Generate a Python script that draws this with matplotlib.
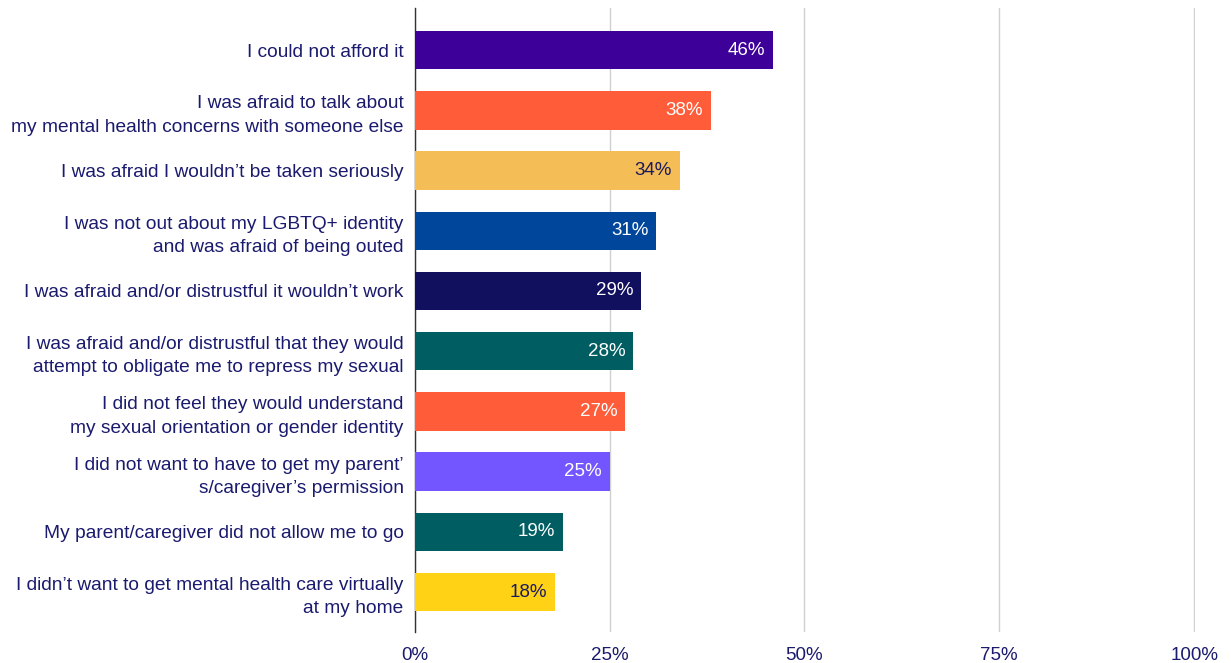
# Barras horizontais: motivos para não buscar atendimento de saúde mental

import matplotlib.pyplot as plt

plt.rcParams['font.family'] = ['Liberation Sans', 'DejaVu Sans']

motivos = [
    'I could not afford it',
    'I was afraid to talk about\nmy mental health concerns with someone else',
    'I was afraid I wouldn\u2019t be taken seriously',
    'I was not out about my LGBTQ+ identity\nand was afraid of being outed',
    'I was afraid and/or distrustful it wouldn\u2019t work',
    'I was afraid and/or distrustful that they would\nattempt to obligate me to repress my sexual',
    'I did not feel they would understand\nmy sexual orientation or gender identity',
    'I did not want to have to get my parent\u2019\ns/caregiver\u2019s permission',
    'My parent/caregiver did not allow me to go',
    'I didn\u2019t want to get mental health care virtually\nat my home',
]
percentuais = [46, 38, 34, 31, 29, 28, 27, 25, 19, 18]
cores = ['#3d0099', '#ff5c39', '#f4bd55', '#00479b', '#10105f',
         '#005e63', '#ff5c39', '#7356ff', '#005e63', '#ffd215']
cores_texto = ['white', 'white', '#1a1a5e', 'white', 'white',
               'white', 'white', 'white', 'white', '#1a1a5e']
ticks_x = [0, 25, 50, 75, 100]

azul_texto = '#1a1a6e'

fig = plt.figure(figsize=(12.31, 6.63), dpi=100)
ax = fig.add_axes([0.337, 0.047, 0.634, 0.941])

pos = list(range(len(motivos)))
ax.barh(pos, percentuais, height=0.64, color=cores, zorder=3)

# Valor escrito dentro da barra, alinhado à direita
for y, v, c in zip(pos, percentuais, cores_texto):
    ax.text(v - 1.0, y, f'{v}%', ha='right', va='center',
            color=c, fontsize=13.5, zorder=4)

ax.set_ylim(len(motivos) - 0.34, -0.7)
ax.set_xlim(0, 100.15)
ax.set_yticks(pos)
ax.set_yticklabels(motivos, fontsize=13.8, color=azul_texto, linespacing=1.48)
ax.set_xticks(ticks_x)
ax.set_xticklabels([f'{t}%' for t in ticks_x], fontsize=13.5, color=azul_texto)
ax.tick_params(axis='y', length=0, pad=8)
ax.tick_params(axis='x', length=0, pad=11)

ax.xaxis.grid(True, color='#d0d0d0', linewidth=1, zorder=0)
for lado in ['top', 'right', 'bottom']:
    ax.spines[lado].set_visible(False)
ax.spines['left'].set_color('#333333')
ax.spines['left'].set_linewidth(1)

plt.savefig('out.png', dpi=100)
